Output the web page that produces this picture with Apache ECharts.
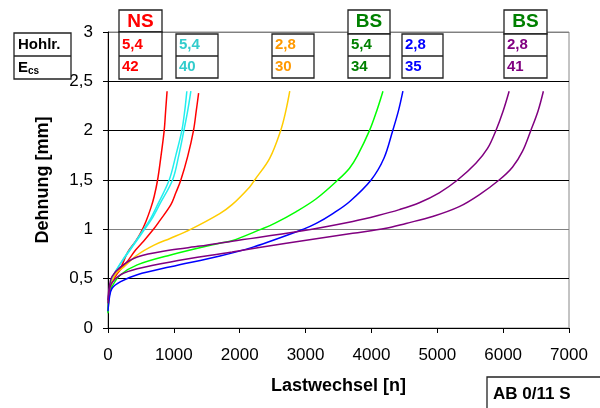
<!DOCTYPE html>
<html>
<head>
<meta charset="utf-8">
<script src="https://cdn.jsdelivr.net/npm/echarts@6/dist/echarts.min.js"></script>
<style>html,body{margin:0;padding:0;background:#fff}#c{width:600px;height:408px}</style>
</head>
<body>
<div id="c"></div>
<script>
// ---- data ----
const xTicks = [0, 1000, 2000, 3000, 4000, 5000, 6000, 7000];
const yTicks = [0, 0.5, 1, 1.5, 2, 2.5, 3];

const redA_n   = [0, 10, 30, 60, 120, 200, 300, 420, 500, 576, 652, 700, 753, 800, 853, 875, 897];
const redA_e   = [0.17, 0.3, 0.4, 0.47, 0.54, 0.62, 0.77, 0.88, 0.97, 1.08, 1.22, 1.33, 1.5, 1.72, 2.0, 2.2, 2.4];
const redB_n   = [0, 10, 30, 60, 120, 200, 300, 419, 540, 690, 778, 955, 1030, 1106, 1210, 1298, 1340, 1376];
const redB_e   = [0.17, 0.3, 0.4, 0.46, 0.53, 0.6, 0.68, 0.79, 0.88, 1.0, 1.08, 1.25, 1.37, 1.5, 1.74, 2.0, 2.2, 2.38];
const cyanA_n  = [0, 10, 30, 60, 120, 242, 400, 540, 640, 753, 929, 1030, 1121, 1165, 1197];
const cyanA_e  = [0.17, 0.32, 0.42, 0.5, 0.58, 0.71, 0.86, 1.0, 1.1, 1.25, 1.5, 1.75, 2.0, 2.2, 2.4];
const cyanB_n  = [0, 10, 30, 60, 120, 250, 410, 555, 660, 790, 980, 1075, 1152, 1210, 1258];
const cyanB_e  = [0.17, 0.32, 0.42, 0.5, 0.58, 0.71, 0.86, 1.0, 1.1, 1.26, 1.5, 1.75, 2.0, 2.2, 2.4];
const orange_n = [0, 20, 60, 120, 242, 444, 700, 950, 1253, 1697, 1884, 2152, 2227, 2455, 2621, 2700, 2760];
const orange_e = [0.17, 0.35, 0.47, 0.55, 0.62, 0.74, 0.84, 0.91, 1.0, 1.16, 1.25, 1.43, 1.5, 1.72, 2.0, 2.2, 2.4];
const green_n  = [0, 20, 60, 192, 444, 950, 1697, 1884, 2320, 2530, 2859, 3162, 3490, 3667, 3790, 3970, 4080, 4175];
const green_e  = [0.15, 0.33, 0.42, 0.54, 0.64, 0.74, 0.86, 0.885, 1.0, 1.06, 1.18, 1.31, 1.5, 1.62, 1.75, 2.0, 2.2, 2.4];
const blue_n   = [0, 20, 60, 192, 444, 950, 1700, 2202, 2960, 3162, 3414, 3667, 3995, 4190, 4323, 4410, 4478];
const blue_e   = [0.17, 0.3, 0.4, 0.47, 0.54, 0.62, 0.73, 0.82, 1.0, 1.06, 1.16, 1.28, 1.5, 1.72, 2.0, 2.2, 2.4];
const purA_n   = [0, 20, 60, 192, 444, 950, 1400, 1884, 2909, 3717, 4100, 4424, 4727, 5030, 5308, 5586, 5763, 5889, 6000, 6091];
const purA_e   = [0.28, 0.42, 0.52, 0.62, 0.72, 0.79, 0.83, 0.88, 0.98, 1.08, 1.14, 1.2, 1.27, 1.37, 1.5, 1.67, 1.82, 2.0, 2.2, 2.4];
const purB_n   = [0, 20, 60, 192, 444, 950, 1884, 2707, 3717, 4222, 4525, 4929, 5333, 5636, 5939, 6141, 6293, 6419, 6530, 6611];
const purB_e   = [0.25, 0.38, 0.46, 0.54, 0.6, 0.67, 0.77, 0.86, 0.96, 1.01, 1.06, 1.13, 1.23, 1.35, 1.5, 1.63, 1.79, 2.0, 2.2, 2.4];

// table annotation texts
const rowLabels = ['Hohlr.', 'Ecs'];
const groupHeaders = ['NS', '', '', 'BS', '', 'BS'];
const groupHohlr = ['5,4', '5,4', '2,8', '5,4', '2,8', '2,8'];
const groupEcs   = ['42', '40', '30', '34', '35', '41'];
const groupColors = ['#FF0000', '#33CCCC', '#FF9900', '#008000', '#0000FF', '#800080'];
const xTitle = 'Lastwechsel [n]';
const yTitle = 'Dehnung [mm]';
const stamp = 'AB 0/11 S';

// ---- chart ----
const zip = (a, b) => a.map((v, i) => [v, b[i]]);
const curves = [
  [redA_n, redA_e, '#FF0000'], [redB_n, redB_e, '#FF0000'],
  [cyanA_n, cyanA_e, '#22EEEE'], [cyanB_n, cyanB_e, '#22EEEE'],
  [orange_n, orange_e, '#FFCC00'], [green_n, green_e, '#00FF00'],
  [blue_n, blue_e, '#0000FF'], [purA_n, purA_e, '#800080'], [purB_n, purB_e, '#800080']
];
const FONT = 'Liberation Sans, Arial, sans-serif';

const series = curves.map(c => ({
  type: 'line', data: zip(c[0], c[1]), showSymbol: false, symbol: 'none',
  smooth: 0.35,
  lineStyle: { color: c[2], width: 1.5 }, animation: false
}));

// table graphics
const graphics = [];
const box = (x, y, w, h) => ({ type: 'rect', shape: { x, y, width: w, height: h },
  style: { fill: '#fff', stroke: '#222', lineWidth: 1.3 }, z: 10 });
const txt = (x, y, t, color, size, extra) => ({ type: 'text', x, y, z: 11,
  style: Object.assign({ text: t, fill: color, font: 'bold ' + size + 'px ' + FONT,
    textVerticalAlign: 'middle' }, extra || {}) });

// row label box
graphics.push(box(14, 33, 57, 46));
graphics.push({ type: 'line', shape: { x1: 14, y1: 56, x2: 71, y2: 56 }, style: { stroke: '#222', lineWidth: 1.3 }, z: 10 });
graphics.push(txt(18, 45, rowLabels[0], '#000', 15));
graphics.push({ type: 'text', x: 18, y: 68, z: 11, style: {
  text: '{e|E}{s|cs}', textVerticalAlign: 'middle',
  rich: { e: { font: 'bold 15px ' + FONT, fill: '#000' }, s: { font: 'bold 10px ' + FONT, fill: '#000', padding: [6, 0, 0, 0] } } } });

const boxX = [119, 176, 272, 348, 402, 504];
const boxW = [43, 42, 42, 42, 41, 43];
groupHohlr.forEach((h, i) => {
  const x = boxX[i], w = boxW[i];
  const top = (i === 0) ? 32 : 34;
  const bottom = (i === 0) ? 79 : 78;
  if (groupHeaders[i]) {
    graphics.push(box(x, 10, w, top - 10));
    graphics.push(txt(x + w / 2, 22, groupHeaders[i], i === 0 ? '#FF0000' : '#008000', 19, { textAlign: 'center' }));
  }
  graphics.push(box(x, top, w, bottom - top));
  graphics.push({ type: 'line', shape: { x1: x, y1: 56, x2: x + w, y2: 56 }, style: { stroke: '#222', lineWidth: 1.3 }, z: 10 });
  graphics.push(txt(x + 3, 45, h, groupColors[i], 15));
  graphics.push(txt(x + 3, 67, groupEcs[i], groupColors[i], 15));
});

// stamp box
graphics.push({ type: 'rect', shape: { x: 487, y: 377, width: 120, height: 40 }, style: { fill: '#fff', stroke: '#222', lineWidth: 1.3 }, z: 10 });
graphics.push(txt(493, 394, stamp, '#000', 17));

const chart = echarts.init(document.getElementById('c'), null, { renderer: 'canvas' });
chart.setOption({
  animation: false,
  backgroundColor: '#fff',
  grid: { left: 108, right: 31, top: 32, bottom: 80, show: true, borderColor: '#888', borderWidth: 1, backgroundColor: 'transparent' },
  xAxis: {
    type: 'value', min: xTicks[0], max: xTicks[xTicks.length - 1], interval: 1000,
    axisLine: { show: true, onZero: false, lineStyle: { color: '#000', width: 1 } },
    axisTick: { show: true, inside: false, length: 5, lineStyle: { color: '#000' } },
    axisLabel: { fontSize: 17, color: '#000', fontFamily: FONT, margin: 19, formatter: v => String(v) },
    splitLine: { show: false },
    name: xTitle, nameLocation: 'middle', nameGap: 49,
    nameTextStyle: { fontSize: 18, fontWeight: 'bold', color: '#000', fontFamily: FONT }
  },
  yAxis: {
    type: 'value', min: yTicks[0], max: yTicks[yTicks.length - 1], interval: 0.5,
    axisLine: { show: true, lineStyle: { color: '#000', width: 1 } },
    axisTick: { show: true, inside: false, length: 5, lineStyle: { color: '#000' } },
    axisLabel: { fontSize: 17, color: '#000', fontFamily: FONT, margin: 15,
      formatter: v => String(v).replace('.', ',') },
    splitLine: { show: true, lineStyle: { color: ['#000', '#000', '#808080', '#000', '#000', '#000', '#808080'], width: 1 } },
    name: yTitle, nameLocation: 'middle', nameGap: 56, nameRotate: 90,
    nameTextStyle: { fontSize: 18, fontWeight: 'bold', color: '#000', fontFamily: FONT }
  },
  series: series,
  graphic: graphics
});
</script>
</body>
</html>
